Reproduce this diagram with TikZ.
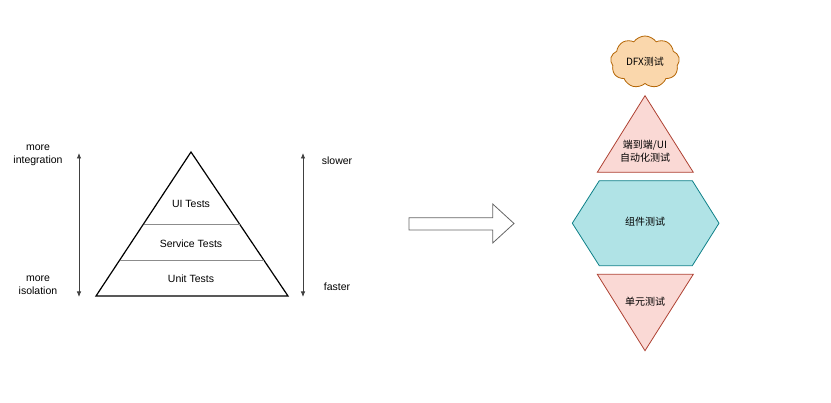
\documentclass[tikz,border=0pt]{standalone}
\usepackage{fontspec}
\setmainfont{Liberation Sans}
\newfontfamily\cjk{Noto Sans CJK SC}
\usetikzlibrary{calc,shapes.symbols,arrows.meta}

\definecolor{redfill}{HTML}{FAD9D5}
\definecolor{redline}{HTML}{AE4132}
\definecolor{tealfill}{HTML}{B0E3E6}
\definecolor{tealline}{HTML}{0E8088}
\definecolor{orangefill}{HTML}{FAD7AC}
\definecolor{orangeline}{HTML}{B46504}

\begin{document}
\begin{tikzpicture}[x=1pt, y=-1pt,
  lbl/.style={font=\fontsize{10.5}{13}\selectfont, align=center, inner sep=0pt},
  cnlbl/.style={font=\cjk\fontsize{10}{13}\selectfont, align=center, inner sep=0pt},
  axis/.style={draw=black!75, line width=0.8pt, {Latex[length=5.5pt,width=4.5pt]}-{Latex[length=5.5pt,width=4.5pt]}},
  layer/.style={draw=black!45, line width=0.7pt},
  redshape/.style={draw=redline, fill=redfill, line width=0.8pt},
  tealshape/.style={draw=tealline, fill=tealfill, line width=0.8pt}]

\useasboundingbox (0,0) rectangle (831,403);

% -------- test pyramid -----------
\coordinate (apex) at (191,152);
\coordinate (bl)   at (96,296);
\coordinate (br)   at (288,296);
\draw [line width=1.2pt] (apex) -- (br) -- (bl) -- cycle;
\draw [layer] ($(apex)!0.5!(bl)$)  -- ($(apex)!0.5!(br)$);
\draw [layer] ($(apex)!0.75!(bl)$) -- ($(apex)!0.75!(br)$);

\node [lbl] (ui)      at (191,204) {UI Tests};
\node [lbl] (service) at (191,244) {Service Tests};
\node [lbl] (unit)    at (191,279) {Unit Tests};

\coordinate (lt) at (79,153);
\coordinate (lb) at (79,297);
\coordinate (rt) at (303,153);
\coordinate (rb) at (303,297);
\draw [axis] (lt) -- (lb);
\draw [axis] (rt) -- (rb);

\node [lbl] (integ) at (38,155) {more\\integration};
\node [lbl] (iso)   at (38,285) {more\\isolation};
\node [lbl] (slow)  at (337,161) {slower};
\node [lbl] (fast)  at (337,287) {faster};

% -------- block arrow -----------
\draw [draw=black!60, line width=0.8pt, fill=white]
  (409,217.7) -- (492.7,217.7) -- (492.7,204) -- (514,223.5)
  -- (492.7,243) -- (492.7,230) -- (409,230) -- cycle;

% -------- new layers -----------
\node [cloud, cloud puffs=9, cloud puff arc=110, cloud ignores aspect, minimum width=69pt, minimum height=52pt,
       draw=orangeline, fill=orangefill, line width=0.8pt, cnlbl] (dfx) at (645,62) {DFX测试};

\draw [redshape] (645,95.7) -- (693.3,172.3) -- (597.3,172.3) -- cycle;
\node [cnlbl] (e2e) at (645,151.5) {端到端/UI\\自动化测试};

\draw [tealshape] (572.3,223.2) -- (599.3,180.7) -- (692.3,180.7) -- (719,223.2)
  -- (692.3,265.7) -- (599.3,265.7) -- cycle;
\node [cnlbl] (comp) at (645,222) {组件测试};

\draw [redshape] (597.3,274.3) -- (693.3,274.3) -- (645,350.7) -- cycle;
\node [cnlbl] (unitcn) at (645,302) {单元测试};

\end{tikzpicture}
\end{document}
